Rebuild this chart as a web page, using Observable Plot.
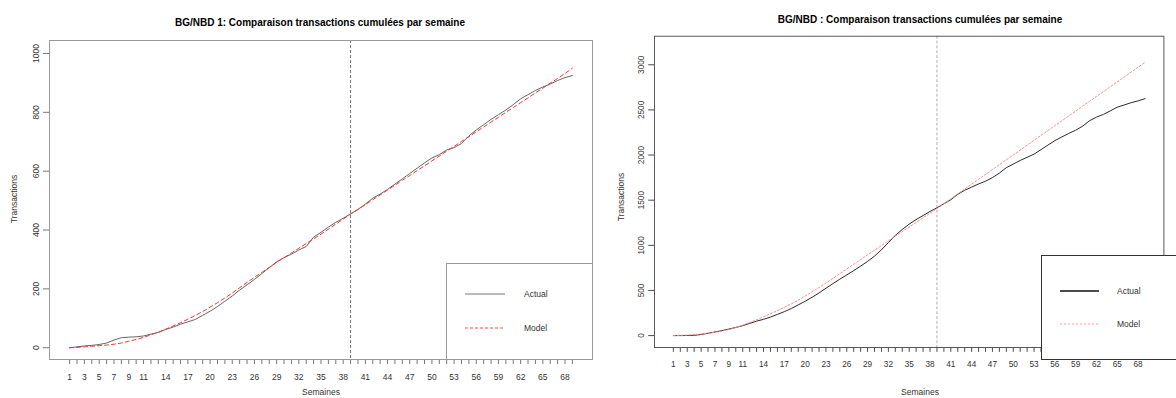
<!DOCTYPE html>
<html><head><meta charset="utf-8">
<script src="https://cdn.jsdelivr.net/npm/d3@7"></script>
<script src="https://cdn.jsdelivr.net/npm/@observablehq/plot@0.6"></script>
<style>
body{margin:0;background:#fff;overflow:hidden;font-family:"Liberation Sans",Arial,sans-serif}
#wrap{position:relative;width:1176px;height:398px;overflow:hidden;background:#fff}
.panel{position:absolute;top:0}
.txt{position:absolute;white-space:nowrap;transform:translate(-50%,-50%);color:#222;line-height:1}
.title{font-weight:bold;font-size:10px;color:#000}
.ylab{transform:translate(-50%,-50%) rotate(-90deg);font-size:8.5px;color:#333}
.xlab{font-size:8.5px;color:#333}
.legend{position:absolute}
</style></head><body>
<div id="wrap">
  <div id="left" class="panel" style="left:0"></div>
  <div id="right" class="panel" style="left:596px"></div>
  <div class="txt title" style="left:320px;top:23px">BG/NBD 1: Comparaison transactions cumulées par semaine</div>
  <div class="txt title" style="left:920px;top:20px">BG/NBD : Comparaison transactions cumulées par semaine</div>
  <div class="txt ylab" style="left:14px;top:199px">Transactions</div>
  <div class="txt ylab" style="left:621px;top:197px">Transactions</div>
  <div class="txt xlab" style="left:321px;top:392px">Semaines</div>
  <div class="txt xlab" style="left:920px;top:392px">Semaines</div>
  <div id="leg1" class="legend" style="left:446px;top:263px"></div>
  <div id="leg2" class="legend" style="left:1041px;top:255px"></div>
</div>
<script>
// ---- data ----
const weeks = Array.from({length: 69}, (_, i) => i + 1);
const calibrationEnd = 39;

const actual1 = [0,3,6,8,11,16,26,34,36,37,40,46,52,62,70,80,88,96,110,124,
  140,158,176,196,214,232,252,272,292,306,318,332,344,376,392,410,426,440,455,470,
  488,508,522,538,556,574,592,610,628,645,656,672,680,694,720,740,758,776,792,808,
  826,846,860,874,886,896,908,918,925];
const model1 = [0,1,3,5,7,9,12,16,22,28,35,44,53,63,74,85,97,110,123,138,
  153,169,186,204,222,239,256,273,290,306,322,338,354,370,386,403,420,437,454,470,
  486,503,519,536,552,569,585,602,618,635,651,668,684,701,717,734,750,767,783,800,
  816,833,849,866,882,899,915,932,950];

const actual2 = [0,0,1,3,12,26,40,55,72,90,110,135,160,180,205,235,265,300,340,380,
  425,472,525,575,625,672,720,770,822,880,950,1030,1110,1175,1235,1285,1330,1375,1415,1460,
  1505,1565,1610,1645,1680,1710,1750,1800,1860,1900,1940,1975,2010,2060,2110,2160,2200,2240,2275,2320,
  2380,2420,2450,2490,2530,2555,2580,2600,2625];
const model2 = [0,2,5,10,17,26,37,50,66,88,115,145,175,208,242,277,313,350,393,438,
  484,533,583,634,686,738,790,842,894,946,998,1050,1101,1152,1203,1254,1305,1356,1407,1461,
  1515,1569,1623,1677,1731,1785,1839,1893,1947,2001,2055,2109,2163,2217,2271,2325,2379,2433,2487,2541,
  2595,2649,2703,2757,2811,2865,2919,2973,3027];

const xTicks = Array.from({length: 69}, (_, i) => i + 1);
const xTickLabels = [1,3,5,7,9,11,14,17,20,23,26,29,32,35,38,41,44,47,50,53,56,59,62,65,68];
const yTicks1 = [0,200,400,600,800,1000];
const yTicks2 = [0,500,1000,1500,2000,2500,3000];
const seriesNames = ["Actual", "Model"];

// ---- tables ----
const table1 = weeks.map((w, i) => ({week: w, actual: actual1[i], model: model1[i]}));
const table2 = weeks.map((w, i) => ({week: w, actual: actual2[i], model: model2[i]}));
const labelSet = new Set(xTickLabels);

function panel(table, opts) {
  return Plot.plot({
    width: opts.width, height: 398,
    marginLeft: opts.ml, marginRight: opts.mr, marginTop: opts.mt, marginBottom: 39,
    style: {fontFamily: "'Liberation Sans', Arial, sans-serif", fontSize: "8.5px", color: "#333", background: "transparent", overflow: "visible"},
    x: {domain: [-1.72, 71.72]},
    y: {domain: opts.ydomain},
    marks: [
      Plot.axisX({ticks: xTicks, tickFormat: d => labelSet.has(d) ? String(d) : "", tickSize: 5, tickPadding: 9, label: null, stroke: opts.tickColor}),
      Plot.axisY({ticks: opts.yticks, tickFormat: d => String(d), tickSize: 6, tickRotate: -90, tickPadding: 5, label: null, stroke: opts.tickColor}),
      Plot.ruleX([calibrationEnd], {stroke: opts.vColor, strokeDasharray: "3,2", strokeWidth: 1}),
      Plot.line(table, {x: "week", y: "actual", stroke: opts.actualColor, strokeWidth: 1}),
      Plot.line(table, {x: "week", y: "model", stroke: opts.modelColor, strokeDasharray: opts.modelDash, strokeWidth: 1}),
      Plot.frame({stroke: opts.frameColor})
    ]
  });
}

document.getElementById("left").append(panel(table1, {
  width: 596, ml: 49, mr: 4, mt: 40, ydomain: [-40, 1044], yticks: yTicks1,
  frameColor: "#999", tickColor: "#777", vColor: "#777", actualColor: "#666", modelColor: "#f33", modelDash: "4,3"
}));
document.getElementById("right").append(panel(table2, {
  width: 600, ml: 60, mr: 13, mt: 37, ydomain: [-132, 3316], yticks: yTicks2,
  frameColor: "#555", tickColor: "#444", vColor: "#aaa", actualColor: "#222", modelColor: "#f88", modelDash: "2,2"
}));

function legend(el, o) {
  const svg = d3.select(el).append("svg").attr("width", o.w + 1).attr("height", o.h + 1)
    .style("display", "block").style("overflow", "visible");
  svg.append("rect").attr("x", 0.5).attr("y", 0.5).attr("width", o.w).attr("height", o.h)
    .attr("fill", "#fff").attr("stroke", o.border);
  const styles = [
    {stroke: o.actualColor, dash: null, width: o.actualWidth},
    {stroke: o.modelColor, dash: o.modelDash, width: 1}
  ];
  seriesNames.forEach((name, i) => {
    const y = o.y0 + i * o.dy;
    svg.append("line").attr("x1", o.lx1).attr("x2", o.lx2).attr("y1", y).attr("y2", y)
      .attr("stroke", styles[i].stroke).attr("stroke-width", styles[i].width)
      .attr("stroke-dasharray", styles[i].dash);
    svg.append("text").attr("x", o.tx).attr("y", y).attr("dy", "0.35em")
      .attr("font-size", "8.5px").attr("fill", "#333")
      .attr("font-family", "'Liberation Sans', Arial, sans-serif").text(name);
  });
}
legend("#leg1", {w: 146, h: 96, border: "#999", y0: 31, dy: 34, lx1: 19, lx2: 59, tx: 78,
  actualColor: "#777", actualWidth: 1.2, modelColor: "#f44", modelDash: "3,2"});
legend("#leg2", {w: 200, h: 104, border: "#333", y0: 36, dy: 33, lx1: 19, lx2: 58, tx: 76,
  actualColor: "#111", actualWidth: 1.5, modelColor: "#f99", modelDash: "2,2"});
</script>
</body></html>
